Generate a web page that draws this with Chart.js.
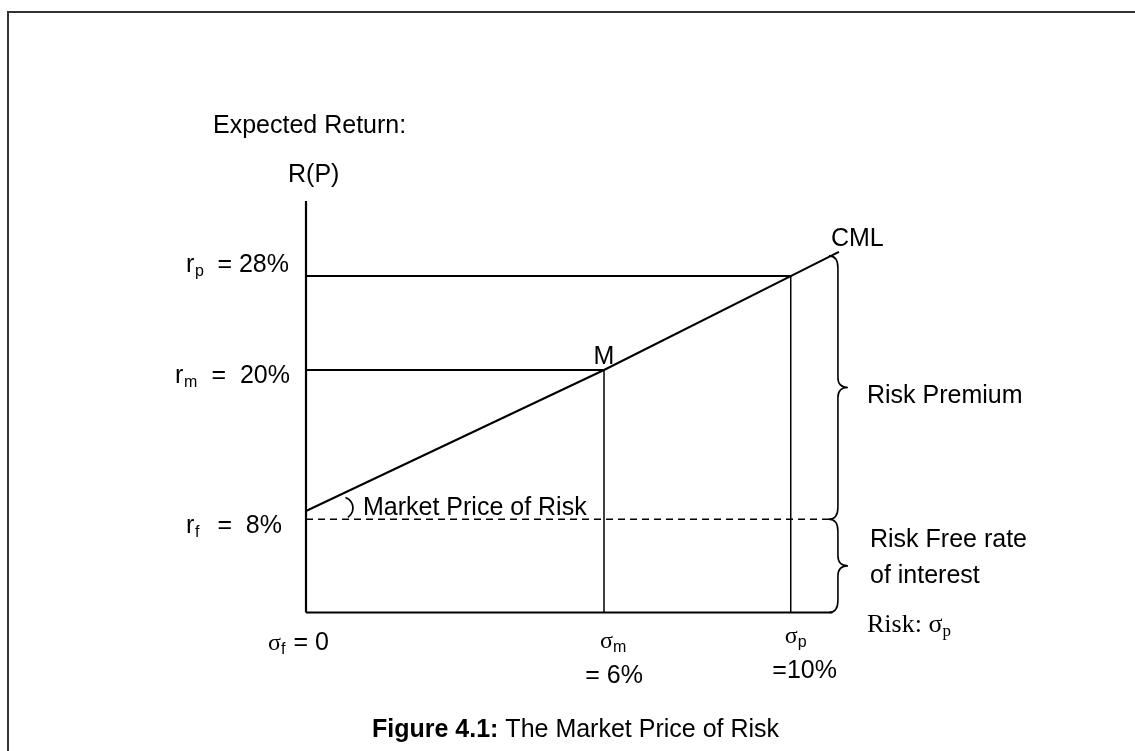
<!DOCTYPE html>
<html>
<head>
<meta charset="utf-8">
<script src="https://cdn.jsdelivr.net/npm/chart.js@4.4.1/dist/chart.umd.min.js"></script>
<style>
  html, body { margin: 0; padding: 0; background: #ffffff; overflow: hidden; }
  canvas { display: block; }
</style>
</head>
<body>
<canvas id="c" width="1135" height="751"></canvas>
<script>
// ---- data (diagram is not drawn to scale) ----
// drawn positions along the risk axis: sigma_f, sigma_m, sigma_p
const riskPositions = [0, 6, 9.76];
// returns: r_f, r_m, r_p
const returnLevels = [8, 20, 28];
// capital market line
const cmlRisk = [0, 6, 10.73];
const cmlReturn = [8, 20, 30.05];
// level where the dashed risk-free line is drawn
const riskFreeDrawnLevel = 7.3;
// axis extents
const axisFloor = -0.64;
const axisTopValue = 34.38;
const axisRightValue = 10.6;

// tick labels
const yTickSubs = ['f', 'm', 'p'];
const yTickTexts = ['=  8%', '=  20%', '= 28%'];
const xTickSubs = ['f', 'm', 'p'];
const xTickTexts = ['= 0', '= 6%', '=10%'];

const SANS = '"Liberation Sans", Arial, Helvetica, sans-serif';
const SERIF = '"Liberation Serif", "Times New Roman", serif';

const pts = (xs, ys) => xs.map((x, i) => ({ x: x, y: ys[i] }));

const datasets = [
  { data: pts([0, 0], [axisFloor, axisTopValue]), borderWidth: 2.2 },            // y axis
  { data: pts([0, axisRightValue], [axisFloor, axisFloor]), borderWidth: 2.2 },  // x axis
  { data: pts(cmlRisk, cmlReturn), borderWidth: 2 },                              // CML
  { data: pts([0, riskPositions[2]], [returnLevels[2], returnLevels[2]]), borderWidth: 2 },
  { data: pts([riskPositions[2], riskPositions[2]], [returnLevels[2], axisFloor]), borderWidth: 1.5 },
  { data: pts([0, riskPositions[1]], [returnLevels[1], returnLevels[1]]), borderWidth: 2 },
  { data: pts([riskPositions[1], riskPositions[1]], [returnLevels[1], axisFloor]), borderWidth: 1.5 },
  { data: pts([0, axisRightValue], [riskFreeDrawnLevel, riskFreeDrawnLevel]), borderWidth: 1.7, borderDash: [7, 5] }
].map(d => Object.assign({
  showLine: true, borderColor: '#000000', pointRadius: 0, pointHoverRadius: 0,
  fill: false, tension: 0, borderCapStyle: 'butt'
}, d));

function text(ctx, str, x, y, font, align) {
  ctx.font = font;
  ctx.textAlign = align || 'left';
  ctx.textBaseline = 'alphabetic';
  ctx.fillText(str, x, y);
}

function brace(ctx, bx, yTop, yBot) {
  const yMid = (yTop + yBot) / 2;
  ctx.beginPath();
  ctx.moveTo(bx - 9, yTop);
  ctx.quadraticCurveTo(bx, yTop, bx, yTop + 12);
  ctx.lineTo(bx, yMid - 10);
  ctx.quadraticCurveTo(bx, yMid, bx + 10, yMid);
  ctx.quadraticCurveTo(bx, yMid, bx, yMid + 10);
  ctx.lineTo(bx, yBot - 12);
  ctx.quadraticCurveTo(bx, yBot, bx - 9, yBot);
  ctx.stroke();
}

const annotations = {
  id: 'annotations',
  afterDatasetsDraw(chart) {
    const ctx = chart.ctx;
    const xs = chart.scales.x, ys = chart.scales.y;
    const px = v => xs.getPixelForValue(v);
    const py = v => ys.getPixelForValue(v);
    ctx.save();
    ctx.fillStyle = '#000000';
    ctx.strokeStyle = '#000000';

    // frame (top and left edges visible)
    ctx.lineWidth = 2;
    ctx.strokeStyle = '#333333';
    ctx.strokeRect(8, 12, 1200, 800);
    ctx.strokeStyle = '#000000';

    // angle mark next to the CML intercept
    ctx.lineWidth = 1.6;
    ctx.beginPath();
    ctx.arc(px(cmlRisk[0]) + 36, py(cmlReturn[0]) - 3, 11, -1.25, 1.0);
    ctx.stroke();

    // braces
    const bx = px(cmlRisk[2]) - 1;
    ctx.lineWidth = 1.6;
    brace(ctx, bx, py(cmlReturn[2]) + 4, py(riskFreeDrawnLevel));
    brace(ctx, bx, py(riskFreeDrawnLevel), py(axisFloor));

    const F = '25px ' + SANS;
    const FS = '16px ' + SANS;
    const FB = 'bold 25px ' + SANS;

    // axis titles
    const yAxTop = py(axisTopValue);
    text(ctx, 'Expected Return:', px(0) - 93, yAxTop - 68, F);
    text(ctx, 'R(P)', px(0) - 18, yAxTop - 19, F);

    // y tick labels
    const yOff = [22, 13, -4];
    const yRight = [282, 290, 289];
    const rLeft = [186, 175, 186];
    for (let i = 0; i < 3; i++) {
      const base = py(returnLevels[i]) + yOff[i];
      text(ctx, 'r', rLeft[i], base, F);
      text(ctx, yTickSubs[i], rLeft[i] + 9, base + 4, FS);
      text(ctx, yTickTexts[i], yRight[i], base, F, 'right');
    }

    // x tick labels
    const sigBase = [650, 648, 643];
    const valBase = [650, 683, 678];
    const sigLeft = [-38, -4, -6];
    const valRight = [329, 643, 837];
    for (let i = 0; i < 3; i++) {
      const cx = px(riskPositions[i]);
      text(ctx, 'σ', cx + sigLeft[i], sigBase[i], '24px ' + SERIF);
      text(ctx, xTickSubs[i], cx + sigLeft[i] + 13, sigBase[i] + 4, FS);
      text(ctx, xTickTexts[i], valRight[i], valBase[i], F, 'right');
    }

    // point / line labels
    text(ctx, 'M', px(cmlRisk[1]), py(cmlReturn[1]) - 6, F, 'center');
    text(ctx, 'CML', px(cmlRisk[2]) - 8, py(cmlReturn[2]) - 6, F);
    text(ctx, 'Market Price of Risk', 363, py(riskFreeDrawnLevel) - 4, F);

    // brace labels
    text(ctx, 'Risk Premium', 867, 403, F);
    text(ctx, 'Risk Free rate', 870, 547, F);
    text(ctx, 'of interest', 870, 583, F);

    // horizontal axis title
    ctx.font = '26px ' + SERIF;
    const w1 = ctx.measureText('Risk: ').width;
    text(ctx, 'Risk: ', 867, 632, '26px ' + SERIF);
    text(ctx, 'σ', 867 + w1, 632, '26px ' + SERIF);
    ctx.font = '26px ' + SERIF;
    const w2 = ctx.measureText('σ').width;
    text(ctx, 'p', 867 + w1 + w2, 636, '17px ' + SERIF);

    // caption
    ctx.font = FB;
    const wb = ctx.measureText('Figure 4.1:').width;
    text(ctx, 'Figure 4.1:', 372, 737, FB);
    text(ctx, ' The Market Price of Risk', 372 + wb, 737, F);

    ctx.restore();
  }
};

new Chart(document.getElementById('c'), {
  type: 'scatter',
  data: { datasets: datasets },
  options: {
    responsive: false,
    animation: false,
    devicePixelRatio: 1,
    layout: { padding: { left: 206.67, right: 133.67, top: 182, bottom: 99 } },
    plugins: { legend: { display: false }, tooltip: { enabled: false } },
    events: [],
    scales: {
      x: { type: 'linear', display: false, min: -2, max: 14 },
      y: { type: 'linear', display: false, min: -4, max: 36 }
    }
  },
  plugins: [annotations]
});
</script>
</body>
</html>
